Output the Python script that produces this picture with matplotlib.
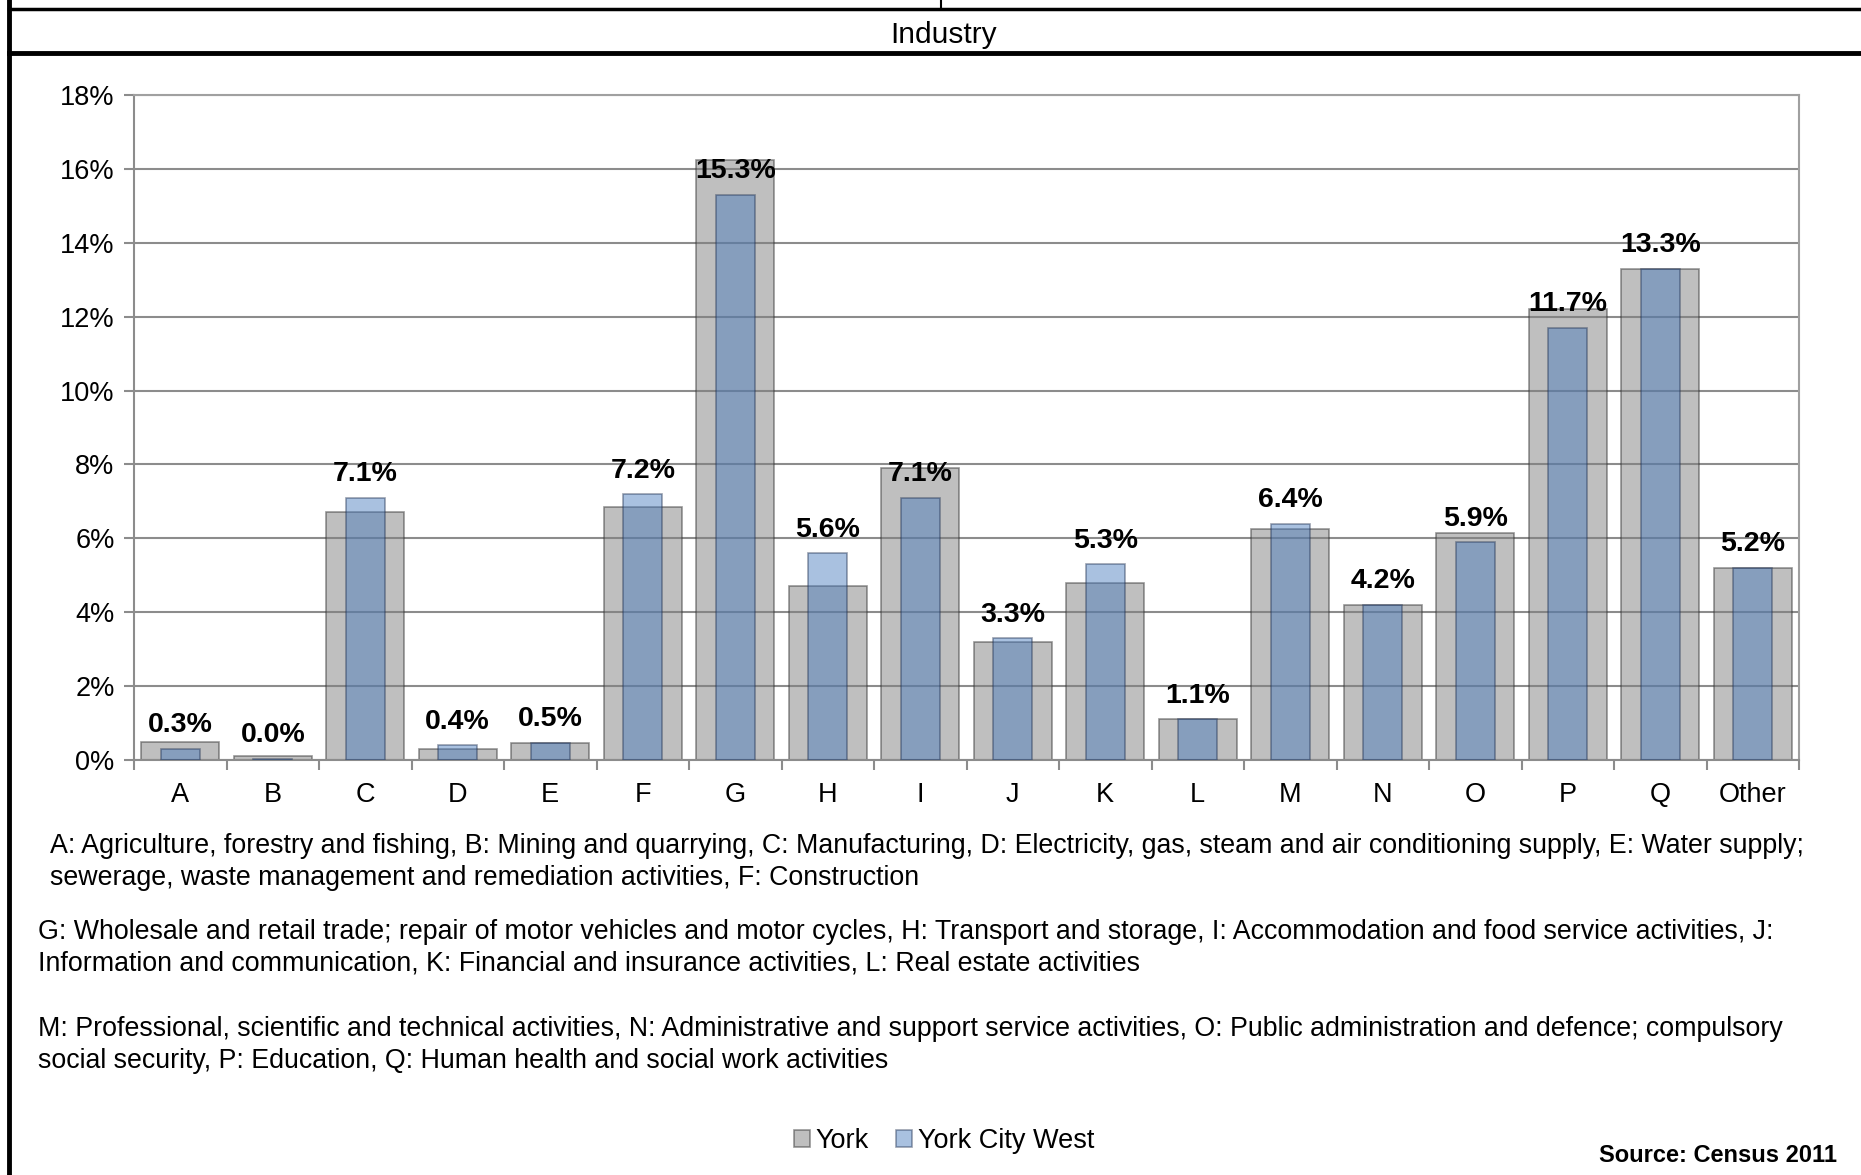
import numpy as np
import matplotlib
matplotlib.use("Agg")
import matplotlib.pyplot as plt
from matplotlib.lines import Line2D

plt.rcParams["font.family"] = ["Liberation Sans", "DejaVu Sans"]

# data (percent)
categories = ["A", "B", "C", "D", "E", "F", "G", "H", "I", "J", "K", "L",
              "M", "N", "O", "P", "Q", "Other"]
york = [0.5, 0.1, 6.7, 0.3, 0.47, 6.85, 16.25, 4.7, 7.9, 3.2, 4.8, 1.1,
        6.25, 4.2, 6.15, 12.2, 13.3, 5.2]
york_city_west = [0.3, 0.03, 7.1, 0.4, 0.47, 7.2, 15.3, 5.6, 7.1, 3.3, 5.3, 1.1,
                  6.4, 4.2, 5.9, 11.7, 13.3, 5.2]
yticks = [0, 2, 4, 6, 8, 10, 12, 14, 16, 18]

notes = [
    ("A: Agriculture, forestry and fishing, B: Mining and quarrying, C: Manufacturing, "
     "D: Electricity, gas, steam and air conditioning supply, E: Water supply;\n"
     "sewerage, waste management and remediation activities, F: Construction"),
    ("G: Wholesale and retail trade; repair of motor vehicles and motor cycles, "
     "H: Transport and storage, I: Accommodation and food service activities, J:\n"
     "Information and communication, K: Financial and insurance activities, L: Real estate activities"),
    ("M: Professional, scientific and technical activities, N: Administrative and support "
     "service activities, O: Public administration and defence; compulsory\n"
     "social security, P: Education, Q: Human health and social work activities"),
]

W, H = 1861, 1175
fig = plt.figure(figsize=(W / 100, H / 100), dpi=100)
ax = fig.add_axes([134 / W, 1 - 760 / H, (1799 - 134) / W, (760 - 95) / H])

x = np.arange(len(categories))
grey_bars = ax.bar(x, york, width=0.84, color="#808080", alpha=0.5,
                   edgecolor="#303030", linewidth=1.2, zorder=2, label="York")
blue_bars = ax.bar(x, york_city_west, width=0.42, color="#4478bc", alpha=0.46,
                   edgecolor="#203050", linewidth=1.2, zorder=3, label="York City West")

for xi, v in zip(x, york_city_west):
    ax.annotate(f"{v:.1f}%", (xi, v), xytext=(0, 7.5), textcoords="offset points",
                ha="center", va="bottom", fontsize=20.5, fontweight="bold", zorder=5)

ax.set_xlim(-0.5, len(categories) - 0.5)
ax.set_ylim(0, 18)
ax.set_yticks(yticks)
ax.set_yticklabels([f"{t}%" for t in yticks], fontsize=19.5)
ax.yaxis.grid(True, color="#8c8c8c", linewidth=1.5, zorder=0)
ax.set_axisbelow(True)

ax.set_xticks(x)
ax.set_xticklabels(categories, fontsize=19.5)
ax.set_xticks(np.arange(len(categories) + 1) - 0.5, minor=True)
ax.tick_params(axis="x", which="major", length=0, pad=15.5)
ax.tick_params(axis="x", which="minor", length=7, color="#8c8c8c", width=1.5)
ax.tick_params(axis="y", length=7, color="#8c8c8c", width=1.5, pad=7)
for s in ax.spines.values():
    s.set_color("#a0a0a0")
    s.set_linewidth(1.5)
ax.spines["left"].set_color("#8c8c8c")
ax.spines["bottom"].set_color("#8c8c8c")

# page frame around the chart
def hline(y, lw, x0=0, x1=W):
    fig.add_artist(Line2D([x0 / W, x1 / W], [1 - y / H, 1 - y / H], color="black", lw=lw))

def vline(xp, y0, y1, lw):
    fig.add_artist(Line2D([xp / W, xp / W], [1 - y0 / H, 1 - y1 / H], color="black", lw=lw))

hline(9, 2.5, x0=9)
hline(53, 3.5, x0=9)
vline(941, 0, 9, 1.5)
vline(9, 0, H, 3.5)

fig.text(944 / W, 1 - 35 / H, "Industry", ha="center", va="center", fontsize=21.5)

note_pos = [(50, 862), (38, 948), (38, 1045)]
for (nx, ny), txt in zip(note_pos, notes):
    fig.text(nx / W, 1 - ny / H, txt, ha="left", va="center", fontsize=19.3,
             linespacing=1.3)

fig.legend(handles=[grey_bars, blue_bars], loc="center", ncol=2,
           bbox_to_anchor=(944 / W, 1 - 1141 / H), frameon=False, fontsize=19.5,
           handlelength=0.6, handleheight=0.6, handletextpad=0.2, columnspacing=1.0)

fig.text(1837 / W, 1 - 1156 / H, "Source: Census 2011", ha="right", va="center",
         fontsize=17, fontweight="bold")

fig.savefig("out.png", dpi=100)
